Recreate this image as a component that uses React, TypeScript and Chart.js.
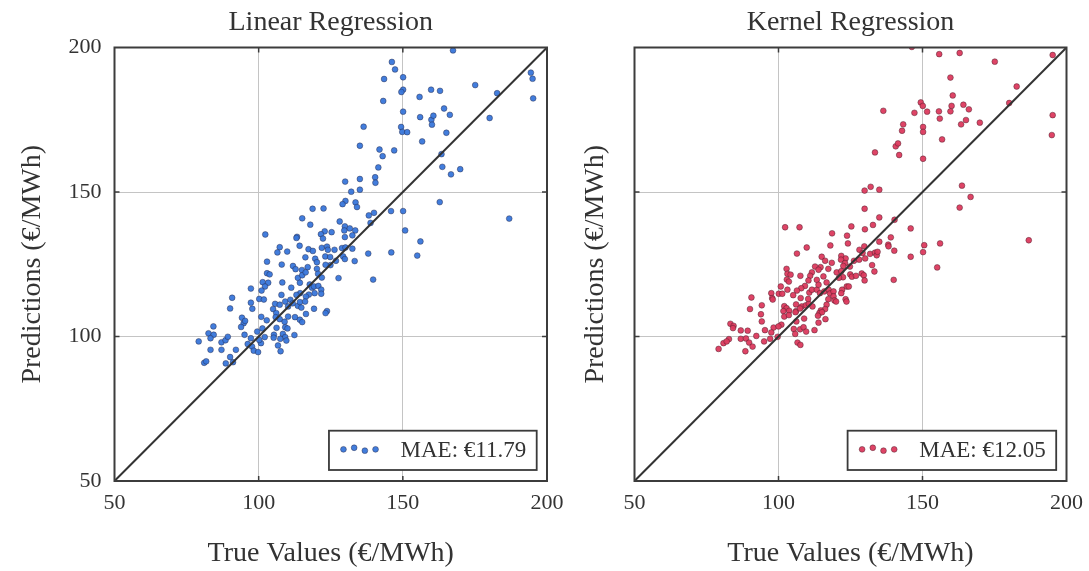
import React, { useEffect, useRef } from "react";
import { Chart, registerables } from "chart.js";

Chart.register(...registerables);

// ---------------- DATA ----------------
const axisTicks = [50, 100, 150, 200];
const panelTitles = ["Linear Regression", "Kernel Regression"];
const xAxisTitle = "True Values (€/MWh)";
const yAxisTitle = "Predictions (€/MWh)";
const maeLabels = ["MAE: €11.79", "MAE: €12.05"];

const linearTrue = [
  141.9, 147.0, 143.0, 141.5, 140.4, 140.5, 130.0, 135.1, 132.1, 135.1, 130.1, 129.1, 133.6, 134.1, 118.7, 122.5,
  138.2, 140.0, 145.9, 115.1, 117.9, 128.1, 138.8, 129.9, 131.6, 133.5, 129.7, 125.3, 122.9, 121.6, 122.3, 113.3,
  113.1, 132.5, 129.9, 102.3, 107.3, 106.5, 109.9, 114.2, 117.3, 118.8, 121.9, 123.7, 124.0, 126.3, 128.9, 130.1,
  132.5, 129.3, 129.9, 133.3, 138.0, 146.0, 102.9, 116.2, 119.6, 120.2, 108.0, 111.9, 112.8, 115.0, 117.0, 123.1,
  124.8, 126.8, 124.9, 123.2, 120.2, 120.6, 121.9, 127.7, 139.7, 102.9, 103.8, 101.4, 103.3, 102.2, 101.0, 108.2,
  111.3, 113.6, 114.3, 115.1, 116.3, 117.7, 118.5, 119.2, 120.7, 121.7, 121.7, 119.4, 117.4, 116.4, 114.4, 113.1,
  97.3, 90.8, 100.2, 101.8, 107.9, 109.2, 111.0, 111.8, 113.6, 114.3, 116.1, 114.8, 97.3, 97.8, 90.1, 105.7,
  107.3, 105.0, 106.1, 110.2, 119.2, 116.4, 123.7, 123.2, 100.9, 102.8, 105.9, 107.3, 110.2, 112.6, 114.3, 115.1,
  94.2, 94.8, 95.3, 93.9, 84.3, 82.6, 84.4, 83.3, 79.2, 87.1, 88.5, 89.3, 95.1, 99.5, 101.3, 106.2,
  109.0, 109.2, 110.0, 105.3, 108.4, 109.2, 112.4, 97.3, 96.2, 100.8, 102.1, 100.2, 105.2, 107.5, 109.6, 106.7,
  107.6, 83.3, 87.1, 92.1, 97.7, 98.3, 99.8, 90.1, 91.1, 88.6, 81.1, 81.8,
  167.4, 146.2, 147.3, 143.5, 150.1, 150.1, 149.5, 143.2, 150.1, 149.4, 149.8, 151.5, 136.4, 135.1,
  155.8, 159.8, 162.9, 175.1, 182.7, 194.4, 195.0, 195.2, 156.0, 159.9, 160.6, 160.1, 164.3, 166.3, 165.1, 180.1,
  156.7, 163.4, 163.7, 166.7, 169.9, 150.1, 162.8, 186.9, 150.8, 156.1, 155.0,
];
const linearPred = [
  164.7, 164.4, 162.4, 158.5, 155.1, 153.2, 153.6, 154.5, 150.1, 150.8, 146.9, 145.8, 146.4, 144.8, 144.2, 144.3,
  141.9, 142.8, 143.4, 140.9, 138.7, 139.8, 139.3, 138.1, 137.4, 136.7, 136.7, 136.1, 136.4, 135.4, 133.9, 134.5,
  134.1, 135.0, 134.4, 135.3, 130.9, 129.1, 129.4, 131.4, 130.2, 129.6, 130.7, 131.1, 130.0, 130.0, 130.6, 130.8,
  130.4, 127.7, 126.8, 126.1, 128.7, 129.1, 125.9, 127.4, 126.9, 125.7, 124.9, 124.4, 123.3, 123.0, 124.0, 127.7,
  127.5, 126.2, 124.7, 124.8, 123.4, 121.7, 120.4, 120.2, 119.7, 121.9, 121.5, 118.8, 118.6, 117.3, 115.9, 118.7,
  116.9, 120.3, 118.6, 121.2, 122.2, 118.0, 116.9, 117.3, 117.5, 116.2, 114.8, 115.0, 114.5, 113.8, 115.0, 114.4,
  116.6, 113.4, 113.0, 112.8, 114.4, 112.1, 112.7, 111.5, 110.6, 111.9, 112.1, 110.0, 111.7, 109.6, 109.7, 111.3,
  111.0, 109.5, 108.1, 110.4, 109.6, 107.8, 108.8, 108.1, 106.8, 105.6, 106.7, 106.0, 106.9, 106.7, 105.8, 105.0,
  106.5, 104.6, 105.4, 103.3, 103.5, 101.1, 100.6, 99.4, 98.3, 98.0, 98.7, 99.9, 100.6, 101.7, 102.8, 103.0,
  105.1, 103.2, 102.8, 100.6, 100.9, 99.8, 100.5, 99.4, 97.4, 97.7, 99.8, 98.8, 99.6, 99.2, 98.6, 96.9,
  94.9, 95.4, 95.4, 95.4, 96.5, 95.1, 94.6, 92.9, 91.1, 90.7, 90.9, 91.4,
  199.0, 195.0, 192.4, 189.1, 189.7, 185.4, 184.6, 181.5, 177.8, 172.5, 170.8, 170.7, 172.6, 166.0,
  182.9, 185.4, 185.0, 187.0, 184.2, 191.3, 189.2, 182.4, 175.9, 175.0, 176.4, 173.3, 178.9, 176.7, 170.5, 175.6,
  167.5, 163.1, 158.7, 156.1, 157.9, 143.4, 146.5, 140.8, 136.7, 132.9, 128.0,
];

const kernelTrue = [
  133.5, 141.9, 129.9, 132.0, 135.0, 129.9, 135.0, 140.3, 102.3, 107.3, 118.6, 125.3, 130.0, 132.8, 145.9, 123.8,
  124.1, 118.0, 109.8, 106.4, 139.0, 135.0, 138.1, 138.2, 140.2, 145.9, 128.1, 129.8, 129.2, 130.1, 131.8, 133.5,
  134.1, 134.4, 115.0, 116.2, 121.8, 123.3, 121.7, 123.1, 126.2, 128.0, 124.8, 122.5, 118.5, 117.3, 114.6, 112.7,
  113.9, 111.6, 111.0, 110.4, 113.3, 115.6, 116.7, 120.2, 121.8, 122.4, 121.0, 124.9, 125.5, 126.9, 128.9, 129.6,
  129.9, 132.5, 133.3, 140.0, 102.8, 103.1, 104.2, 102.9, 103.6, 107.6, 109.2, 107.9, 106.4, 105.1, 100.8, 100.1,
  101.3, 103.1, 97.5, 97.8, 98.0, 90.6, 94.2, 93.9, 94.2, 90.1, 102.0, 102.8, 101.7, 103.7, 106.1, 106.1,
  108.1, 109.5, 110.5, 111.8, 110.3, 107.7, 110.7, 111.6, 113.3, 113.9, 114.4, 115.9, 117.4, 117.9, 119.1, 119.1,
  119.4, 120.0, 117.3, 116.7, 116.2, 114.7, 114.2, 115.1, 113.7, 116.3, 113.9, 122.1, 123.7, 124.4, 121.8, 123.3,
  123.6, 102.0, 103.6, 105.9, 107.5, 108.9, 106.2, 105.3, 107.5, 108.7, 109.6, 112.5, 105.8, 101.0, 98.3, 100.0,
  97.5, 95.3, 92.3, 89.3, 86.9, 83.3, 84.4, 84.2, 82.8, 86.9, 88.7, 89.8, 91.0, 88.5, 79.2, 80.9,
  82.0, 97.1, 95.0, 99.7, 106.6, 107.6,
  146.3, 155.8, 162.9, 175.1, 195.2, 159.7, 160.5, 149.4, 150.1, 160.1, 164.2, 166.1, 147.2, 151.6, 155.7, 159.7,
  156.0, 165.1, 163.4, 169.9, 136.4, 143.3, 142.9, 150.2, 150.2, 140.7, 141.5, 156.8, 150.2, 180.1, 182.7, 195.2,
  194.9, 163.7, 166.7, 162.9, 186.9, 156.1, 150.6, 150.2, 155.1,
];
const kernelPred = [
  163.7, 162.8, 150.5, 151.8, 150.8, 144.2, 141.2, 140.4, 137.8, 137.8, 135.7, 138.1, 137.1, 138.6, 137.4, 134.9,
  132.2, 131.5, 130.8, 128.7, 134.3, 132.8, 131.8, 131.2, 129.7, 127.6, 130.0, 131.2, 128.9, 127.0, 128.6, 129.0,
  128.1, 129.3, 127.6, 126.2, 127.9, 127.0, 126.6, 125.4, 126.2, 126.6, 124.2, 124.4, 125.5, 123.4, 124.0, 124.2,
  123.1, 122.2, 121.0, 119.4, 119.6, 120.8, 118.7, 122.2, 122.6, 120.5, 120.3, 121.5, 120.7, 121.0, 121.8, 121.2,
  119.4, 124.7, 122.5, 119.6, 123.4, 121.7, 121.4, 119.7, 119.0, 121.0, 117.5, 116.7, 115.9, 114.3, 117.3, 114.8,
  114.8, 116.2, 115.0, 113.3, 112.8, 113.5, 110.8, 107.7, 105.2, 109.5, 110.5, 109.8, 108.8, 108.9, 111.1, 108.8,
  110.4, 110.8, 111.3, 110.4, 113.0, 113.3, 115.2, 116.2, 116.2, 117.9, 115.0, 115.6, 116.2, 114.9, 115.6, 113.9,
  112.5, 112.1, 112.9, 111.0, 109.5, 109.0, 108.1, 108.4, 107.2, 106.0, 104.8, 116.2, 117.3, 117.3, 115.0, 112.9,
  112.1, 106.9, 107.4, 108.4, 109.7, 106.2, 105.2, 102.6, 102.5, 103.2, 101.7, 102.2, 100.9, 104.1, 103.1, 103.5,
  101.4, 102.2, 100.2, 102.0, 102.1, 104.4, 103.7, 102.9, 99.1, 99.2, 99.3, 97.9, 96.5, 94.9, 95.7, 97.7,
  98.3, 99.2, 98.3, 99.9, 97.9, 97.1,
  200.2, 197.7, 198.1, 195.1, 197.4, 189.6, 183.4, 181.0, 179.8, 179.8, 180.2, 178.6, 177.4, 177.8, 177.9, 177.9,
  175.4, 174.9, 173.4, 174.0, 178.1, 173.4, 171.2, 172.5, 170.8, 165.8, 166.8, 168.2, 161.5, 180.8, 186.5, 176.6,
  169.7, 152.2, 148.3, 144.6, 133.3, 132.2, 131.6, 129.2, 123.9,
];

// ---------------- STYLE ----------------
const SERIF = "'Liberation Serif', 'Times New Roman', serif";
const TEXT_COLOR = "#333333";

type PanelProps = {
  title: string;
  xs: number[];
  ys: number[];
  fill: string;
  edge: string;
  legendText: string;
  showYTicks: boolean;
  left: number;
  width: number;
  yAxisWidth: number;
  rightPad: number;
  yTitlePad: number;
};

const decorPlugin = {
  id: "mplDecor",
  afterDraw(chart: any, _args: any, opts: any) {
    const { ctx, chartArea: a, scales } = chart;
    const xs = scales.x;
    const ys = scales.y;
    ctx.save();
    // inward tick marks
    ctx.strokeStyle = "#3c3c3c";
    ctx.lineWidth = 1.5;
    const inner = axisTicks.filter((v) => v > axisTicks[0] && v < axisTicks[axisTicks.length - 1]);
    const tl = 5;
    ctx.beginPath();
    for (const v of inner) {
      const px = xs.getPixelForValue(v);
      const py = ys.getPixelForValue(v);
      ctx.moveTo(px, a.bottom);
      ctx.lineTo(px, a.bottom - tl);
      ctx.moveTo(px, a.top);
      ctx.lineTo(px, a.top + tl);
      ctx.moveTo(a.left, py);
      ctx.lineTo(a.left + tl, py);
      ctx.moveTo(a.right, py);
      ctx.lineTo(a.right - tl, py);
    }
    ctx.stroke();
    // spines
    ctx.lineWidth = 2;
    ctx.strokeStyle = "#3c3c3c";
    ctx.strokeRect(a.left, a.top, a.right - a.left, a.bottom - a.top);
    // title
    ctx.fillStyle = TEXT_COLOR;
    ctx.font = `28px ${SERIF}`;
    ctx.textAlign = "center";
    ctx.textBaseline = "alphabetic";
    ctx.fillText(opts.title, (a.left + a.right) / 2, 30);
    // legend
    ctx.font = `23px ${SERIF}`;
    const tw = ctx.measureText(opts.legendText).width;
    const boxRight = a.right - 10.3;
    const boxBottom = a.bottom - 11;
    const boxTop = boxBottom - 39.3;
    const cy = (boxTop + boxBottom) / 2;
    const textRight = boxRight - 10.5;
    const textLeft = textRight - tw;
    const spacing = 10.7;
    const lastDot = textLeft - 25;
    const dotOffsets = [-1, -2.6, 0.3, -1];
    const firstDot = lastDot - spacing * (dotOffsets.length - 1);
    const boxLeft = firstDot - 14.5;
    ctx.fillStyle = "#ffffff";
    ctx.fillRect(boxLeft, boxTop, boxRight - boxLeft, boxBottom - boxTop);
    ctx.lineWidth = 1.8;
    ctx.strokeStyle = "#3a3a3a";
    ctx.strokeRect(boxLeft, boxTop, boxRight - boxLeft, boxBottom - boxTop);
    dotOffsets.forEach((dy, i) => {
      ctx.beginPath();
      ctx.arc(firstDot + i * spacing, cy + dy, 2.9, 0, Math.PI * 2);
      ctx.fillStyle = opts.fill;
      ctx.fill();
      ctx.lineWidth = 0.6;
      ctx.strokeStyle = opts.edge;
      ctx.stroke();
    });
    ctx.fillStyle = TEXT_COLOR;
    ctx.textAlign = "left";
    ctx.textBaseline = "alphabetic";
    ctx.fillText(opts.legendText, textLeft, cy + 6.3);
    ctx.restore();
  },
};

function Panel(p: PanelProps) {
  const ref = useRef<HTMLCanvasElement | null>(null);
  useEffect(() => {
    if (!ref.current) return;
    const points = p.xs.map((x, i) => ({ x, y: p.ys[i] }));
    const setTicks = (s: any) => {
      s.ticks = axisTicks.map((v) => ({ value: v }));
    };
    const chart = new Chart(ref.current, {
      type: "scatter",
      data: {
        datasets: [
          {
            label: "diagonal",
            data: [
              { x: axisTicks[0], y: axisTicks[0] },
              { x: axisTicks[axisTicks.length - 1], y: axisTicks[axisTicks.length - 1] },
            ],
            showLine: true,
            borderColor: "#333333",
            borderWidth: 2,
            pointRadius: 0,
          } as any,
          {
            label: p.legendText,
            data: points,
            backgroundColor: p.fill,
            borderColor: p.edge,
            borderWidth: 0.6,
            pointRadius: 2.9,
          },
        ],
      },
      options: {
        responsive: false,
        animation: false,
        layout: { padding: { top: 47.5, left: 0, right: p.rightPad, bottom: 0 } },
        plugins: {
          legend: { display: false },
          tooltip: { enabled: false },
          mplDecor: { title: p.title, legendText: p.legendText, fill: p.fill, edge: p.edge },
        } as any,
        scales: {
          x: {
            type: "linear",
            min: axisTicks[0],
            max: axisTicks[axisTicks.length - 1],
            afterBuildTicks: setTicks,
            afterFit: (s: any) => {
              s.height = 90;
            },
            grid: { color: "#c4c4c4", lineWidth: 1, drawTicks: false },
            border: { display: false },
            ticks: {
              color: TEXT_COLOR,
              font: { family: SERIF, size: 22 },
              padding: 9,
              maxRotation: 0,
            },
            title: {
              display: true,
              text: xAxisTitle,
              color: TEXT_COLOR,
              font: { family: SERIF, size: 28 },
              padding: { top: 0, bottom: 1 },
            },
          },
          y: {
            type: "linear",
            min: axisTicks[0],
            max: axisTicks[axisTicks.length - 1],
            afterBuildTicks: setTicks,
            afterFit: (s: any) => {
              s.width = p.yAxisWidth;
            },
            grid: { color: "#c4c4c4", lineWidth: 1, drawTicks: false },
            border: { display: false },
            ticks: {
              display: p.showYTicks,
              color: TEXT_COLOR,
              font: { family: SERIF, size: 22 },
              padding: 13,
            },
            title: {
              display: true,
              text: yAxisTitle,
              color: TEXT_COLOR,
              font: { family: SERIF, size: 28 },
              padding: { top: p.yTitlePad, bottom: 0 },
            },
          },
        },
      } as any,
      plugins: [decorPlugin],
    });
    return () => chart.destroy();
  }, []);
  return (
    <canvas
      ref={ref}
      width={p.width}
      height={571}
      style={{ position: "absolute", left: p.left, top: 0, width: p.width, height: 571 }}
    />
  );
}

export default function App() {
  return (
    <div
      style={{
        position: "absolute",
        left: 0,
        top: 0,
        width: 1089,
        height: 571,
        background: "#ffffff",
        overflow: "hidden",
      }}
    >
      <Panel
        title={panelTitles[0]}
        xs={linearTrue}
        ys={linearPred}
        fill="rgba(56,118,218,0.95)"
        edge="rgba(40,40,70,0.75)"
        legendText={maeLabels[0]}
        showYTicks={true}
        left={0}
        width={582}
        yAxisWidth={114.5}
        rightPad={35}
        yTitlePad={16}
      />
      <Panel
        title={panelTitles[1]}
        xs={kernelTrue}
        ys={kernelPred}
        fill="rgba(220,58,94,0.95)"
        edge="rgba(70,30,40,0.75)"
        legendText={maeLabels[1]}
        showYTicks={false}
        left={545}
        width={557}
        yAxisWidth={89.5}
        rightPad={35.5}
        yTitlePad={34}
      />
    </div>
  );
}
